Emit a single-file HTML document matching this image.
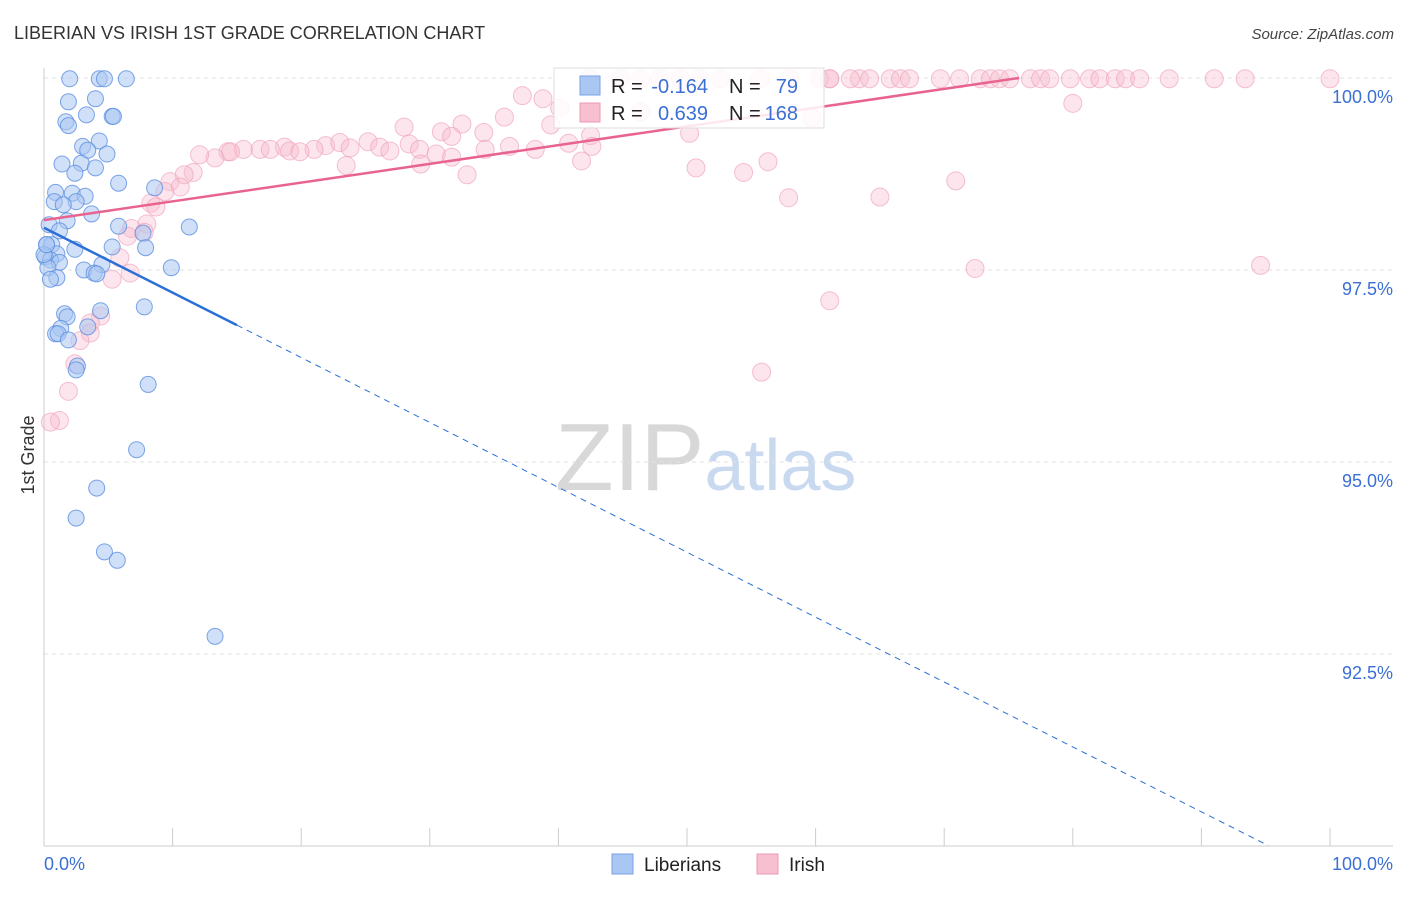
<!DOCTYPE html>
<html><head><meta charset="utf-8"><style>
body{margin:0;background:#fff;font-family:"Liberation Sans",sans-serif;}
svg text{font-family:"Liberation Sans",sans-serif;}
</style></head><body>
<svg id="chart" width="1406" height="892" xmlns="http://www.w3.org/2000/svg">
<text x="14" y="39" font-size="18" fill="#333">LIBERIAN VS IRISH 1ST GRADE CORRELATION CHART</text>
<text x="1394" y="39" font-size="15" fill="#444" text-anchor="end" font-style="italic">Source: ZipAtlas.com</text>
<text x="555" y="490" font-size="96" fill="#d8d8d8" font-family="Liberation Serif">ZIP<tspan fill="#c9d9f0" font-family="Liberation Sans" font-size="72">atlas</tspan></text>
<g id="grid"></g><g id="axes"></g><g id="pts"></g><g id="lines"></g>
<text transform="translate(34,455) rotate(-90)" font-size="18" fill="#333" text-anchor="middle">1st Grade</text>
<text x="44" y="870" font-size="18" fill="#3b6fd4">0.0%</text>
<text x="1393" y="870" font-size="18" fill="#3b6fd4" text-anchor="end">100.0%</text>
<g>
<rect x="554" y="68" width="270" height="60" fill="#fff" fill-opacity="0.85" stroke="#ddd"/>
<rect x="580" y="76" width="20" height="19" fill="#aac6f2" stroke="#7aa3e6"/>
<text x="611" y="93" font-size="20" fill="#222">R =</text>
<text x="708" y="93" font-size="20" fill="#3b6fd4" text-anchor="end">-0.164</text>
<text x="729" y="93" font-size="20" fill="#222">N =</text>
<text x="798" y="93" font-size="20" fill="#3b6fd4" text-anchor="end">79</text>
<rect x="580" y="103" width="20" height="19" fill="#f7bfd0" stroke="#ee9ab5"/>
<text x="611" y="120" font-size="20" fill="#222">R =</text>
<text x="708" y="120" font-size="20" fill="#3b6fd4" text-anchor="end">0.639</text>
<text x="729" y="120" font-size="20" fill="#222">N =</text>
<text x="798" y="120" font-size="20" fill="#3b6fd4" text-anchor="end">168</text>
</g>
<g>
<rect x="612" y="854" width="21" height="20" fill="#aac6f2" stroke="#7aa3e6"/>
<text x="644" y="871" font-size="19" fill="#222">Liberians</text>
<rect x="757" y="854" width="21" height="20" fill="#f7bfd0" stroke="#ee9ab5"/>
<text x="789" y="871" font-size="19" fill="#222">Irish</text>
</g>
</svg>
<script>
const yTicks=[100,97.5,95,92.5];
const yTickLabels=["100.0%","97.5%","95.0%","92.5%"];
const xTicks=[0,10,20,30,40,50,60,70,80,90,100];
const blueX=[2.0,4.3,6.4,4.7,4.0,1.9,3.3,5.3,5.4,1.7,1.9,4.3,3.0,3.4,4.9,1.4,2.9,4.0,2.4,5.8,8.6,0.9,2.2,3.2,0.8,2.5,1.5,3.7,1.8,5.8,11.3,0.4,1.2,7.7,0.2,0.6,5.3,7.9,2.4,1.0,0.1,0.5,1.2,4.5,9.9,0.3,3.1,3.9,4.1,1.0,0.5,7.8,4.4,1.6,1.8,3.4,1.3,0.9,1.1,1.9,2.6,2.5,8.1,7.2,4.1,2.5,4.7,5.7,13.3,0.0,0.2];
const blueY=[99.99,99.99,99.99,99.99,99.73,99.69,99.52,99.5,99.5,99.43,99.38,99.18,99.11,99.06,99.01,98.88,98.89,98.83,98.76,98.63,98.57,98.51,98.5,98.46,98.39,98.39,98.35,98.23,98.14,98.07,98.06,98.09,98.01,97.98,97.83,97.83,97.8,97.79,97.77,97.71,97.67,97.63,97.6,97.57,97.53,97.53,97.5,97.46,97.45,97.4,97.38,97.02,96.97,96.93,96.89,96.76,96.74,96.67,96.67,96.59,96.25,96.2,96.01,95.16,94.66,94.27,93.83,93.72,92.73,97.7,97.83];
const pinkX=[42.4,46.4,47.9,51.0,52.6,55.7,58.0,60.3,61.1,63.4,64.2,65.8,66.6,67.3,69.7,71.2,72.8,73.6,74.3,75.1,76.7,77.5,78.2,79.8,81.3,82.1,83.3,84.1,85.2,87.5,91.0,93.4,100,49.5,44.8,61.1,62.7,37.2,38.8,80.0,40.1,46.4,59.7,35.8,32.5,28.0,39.4,30.9,34.2,31.7,42.5,50.2,25.2,28.4,26.1,21.9,21.0,18.7,16.8,15.5,14.3,13.3,12.1,14.5,17.6,19.1,19.9,23.0,23.8,26.9,29.2,30.5,31.7,34.3,36.2,38.2,40.8,42.6,56.3,23.5,29.3,32.9,41.8,54.4,50.7,70.9,65.0,57.9,11.6,10.9,9.8,10.6,9.4,8.3,8.7,8.0,6.8,6.5,7.8,5.9,5.3,6.7,4.4,3.6,3.6,2.8,2.4,1.9,1.2,0.5,94.6,72.4,61.1,55.8];
const pinkY=[99.99,99.99,99.99,99.99,99.99,99.99,99.99,99.99,99.99,99.99,99.99,99.99,99.99,99.99,99.99,99.99,99.99,99.99,99.99,99.99,99.99,99.99,99.99,99.99,99.99,99.99,99.99,99.99,99.99,99.99,99.99,99.99,99.99,99.99,99.99,99.99,99.99,99.77,99.73,99.67,99.61,99.56,99.48,99.49,99.4,99.36,99.39,99.3,99.29,99.24,99.25,99.28,99.17,99.14,99.1,99.12,99.07,99.1,99.07,99.07,99.04,98.96,99.0,99.04,99.07,99.05,99.04,99.16,99.09,99.05,99.07,99.01,98.97,99.07,99.11,99.07,99.15,99.11,98.91,98.86,98.88,98.74,98.92,98.77,98.83,98.66,98.45,98.44,98.77,98.74,98.65,98.58,98.52,98.37,98.32,98.1,98.04,97.94,97.99,97.66,97.38,97.46,96.9,96.81,96.68,96.58,96.28,95.92,95.54,95.52,97.56,97.52,97.1,96.17];
const X0=44,X1=1330,Y100=78,PX=76.8;
const sx=v=>X0+(X1-X0)*v/100, sy=v=>Y100+(100-v)*PX;
const NS="http://www.w3.org/2000/svg";
function mk(t,a,p){const e=document.createElementNS(NS,t);for(const k in a)e.setAttribute(k,a[k]);document.getElementById(p).appendChild(e);return e;}
yTicks.forEach((v,i)=>{
 const l=mk('line',{x1:44,x2:1393,y1:sy(v),y2:sy(v),stroke:'#e2e2e2','stroke-dasharray':'4,4'},'grid');
 
 
 const t=mk('text',{x:1393,y:sy(v)+25,'font-size':18,fill:'#3b6fd4','text-anchor':'end'},'axes');t.textContent=yTickLabels[i];
 
 
});
const ax=mk('line',{x1:44,x2:44,y1:68,y2:846,stroke:'#ccc'},'axes');


const bx=mk('line',{x1:44,x2:1393,y1:846,y2:846,stroke:'#ccc'},'axes');


xTicks.forEach(v=>{const t=mk('line',{x1:sx(v),x2:sx(v),y1:828,y2:846,stroke:'#ccc'},'axes');
 
 });
pinkX.forEach((x,i)=>{const c=mk('circle',{cx:sx(x),cy:sy(pinkY[i]),r:9,fill:'#f7bfd0','fill-opacity':0.4,stroke:'#ee9ab5','stroke-opacity':0.6},'pts');
 
 });
blueX.forEach((x,i)=>{const c=mk('circle',{cx:sx(x),cy:sy(blueY[i]),r:8,fill:'#aac6f2','fill-opacity':0.55,stroke:'#5b8ee0','stroke-opacity':0.8},'pts');
 
 });
const bA=98.05,bB=-8.45;
const b1=mk('line',{x1:sx(0),y1:sy(bA),x2:sx(15),y2:sy(bA+bB*0.15),stroke:'#2b6fd8','stroke-width':2.5},'lines');


const b2=mk('line',{x1:sx(15),y1:sy(bA+bB*0.15),x2:sx(95.2),y2:sy(bA+bB*0.952),stroke:'#2b6fd8','stroke-width':1,'stroke-dasharray':'6,5'},'lines');


const pA=98.15,pB=2.44,pe=(100-pA)/pB*100;
const p1=mk('line',{x1:sx(0),y1:sy(pA),x2:sx(pe),y2:sy(100),stroke:'#e8648f','stroke-width':2.5},'lines');


</script>
</body></html>
